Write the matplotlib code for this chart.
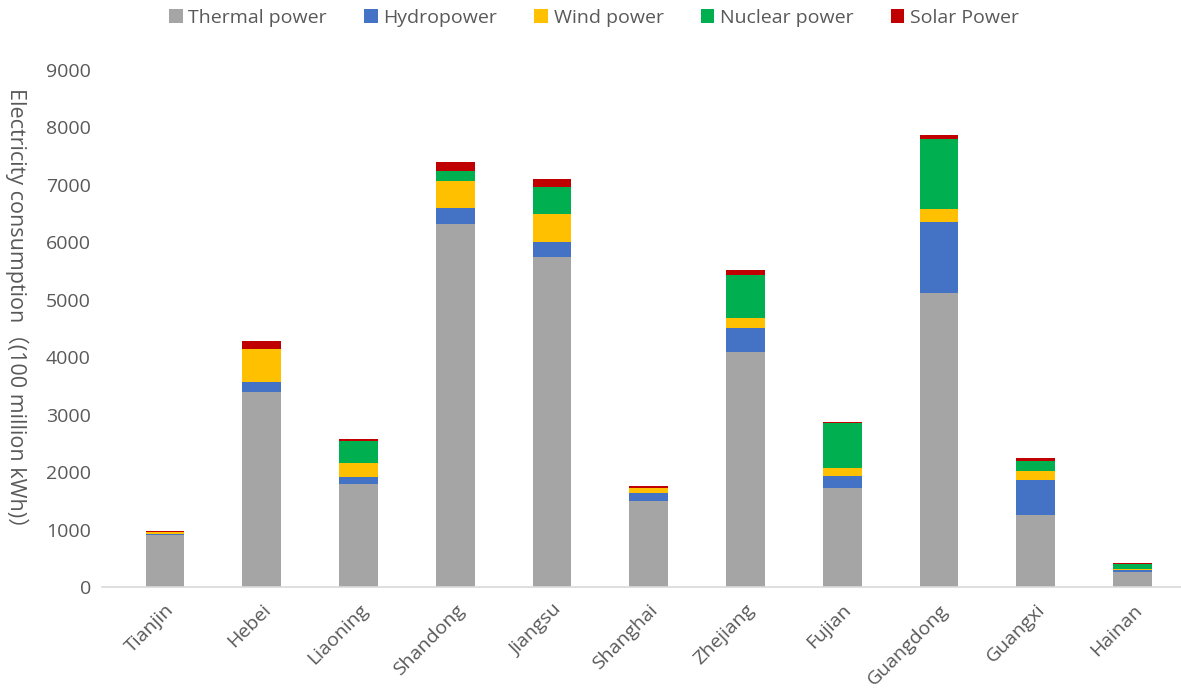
import numpy as np
import matplotlib.pyplot as plt

plt.rcParams['font.family'] = ['Open Sans', 'Noto Sans CJK KR', 'DejaVu Sans']

# Datos (100 millones de kWh)
provinces = ['Tianjin', 'Hebei', 'Liaoning', 'Shandong', 'Jiangsu', 'Shanghai',
             'Zhejiang', 'Fujian', 'Guangdong', 'Guangxi', 'Hainan']
thermal = [900, 3390, 1790, 6320, 5750, 1500, 4090, 1730, 5120, 1255, 265]
hydro = [30, 175, 120, 285, 255, 130, 420, 200, 1235, 605, 35]
wind = [30, 575, 245, 455, 480, 100, 175, 135, 220, 165, 10]
nuclear = [0, 0, 390, 190, 480, 0, 740, 785, 1225, 175, 90]
solar = [20, 150, 40, 140, 135, 35, 90, 20, 65, 40, 25]

series = [('Thermal power', thermal, '#A5A5A5'),
          ('Hydropower', hydro, '#4472C4'),
          ('Wind power', wind, '#FFC000'),
          ('Nuclear power', nuclear, '#00B050'),
          ('Solar Power', solar, '#C00000')]

fig = plt.figure(figsize=(11.81, 6.93), dpi=100)
ax = fig.add_axes([102 / 1181, 1 - 587 / 693, 1 - 102 / 1181, (587 - 70) / 693])

x = np.arange(len(provinces))
bottom = np.zeros(len(provinces))
for name, vals, col in series:
    ax.bar(x, vals, width=0.4, bottom=bottom, color=col, label=name)
    bottom += np.array(vals)

ax.set_xlim(-0.65, 10.5)
ax.set_ylim(0, 9000)
ax.set_yticks(range(0, 9001, 1000))
ax.set_xticks(x)
ax.set_xticklabels(provinces, rotation=45, ha='right', rotation_mode='anchor')

for s in ['top', 'right', 'left']:
    ax.spines[s].set_visible(False)
ax.spines['bottom'].set_color('#D9D9D9')
ax.spines['bottom'].set_linewidth(1.2)
ax.tick_params(axis='both', length=0, labelsize=14, colors='#595959')
ax.tick_params(axis='y', pad=8)
ax.tick_params(axis='x', pad=10)

fig.text(0.014, (693 - 313) / 693, 'Electricity consumption（(100 million kWh)）',
         rotation=270, va='center', ha='center', fontsize=15.5, color='#595959')

fig.legend(loc='center', bbox_to_anchor=(0.503, 1 - 18 / 693), ncol=5, frameon=False,
           fontsize=14, handlelength=0.7, handleheight=0.7, handletextpad=0.3,
           columnspacing=1.9, labelcolor='#595959')

fig.savefig('out.png', dpi=100)
